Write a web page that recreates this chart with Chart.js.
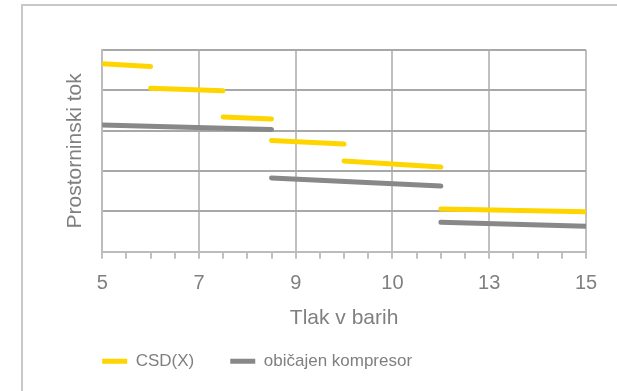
<!DOCTYPE html>
<html>
<head>
<meta charset="utf-8">
<script src="https://cdn.jsdelivr.net/npm/chart.js@4/dist/chart.umd.min.js"></script>
<style>
  html, body { margin: 0; padding: 0; background: #fff; }
  #frame {
    position: absolute; left: 21px; top: 4px; width: 700px; height: 500px;
    border-left: 2px solid #c8c8c8; border-top: 2px solid #c8c8c8;
  }
  #wrap { position: absolute; left: 0; top: 0; width: 617px; height: 391px; }
</style>
</head>
<body>
<div id="frame"></div>
<div id="wrap"><canvas id="flowChart"></canvas></div>
<script>
// x positions are steps on the pressure axis (0..20), labels every 4 steps
const xTickLabels = ['5', '7', '9', '10', '13', '15'];

// CSD(X) segments
const csdFrom = [0, 2, 5, 7, 10, 14];
const csdTo = [2, 5, 7, 10, 14, 20];
const csdStartFlow = [4.66, 4.05, 3.34, 2.76, 2.25, 1.06];
const csdEndFlow = [4.59, 3.99, 3.29, 2.67, 2.10, 0.99];

// običajen kompresor segments
const stdFrom = [0, 7, 14];
const stdTo = [7, 14, 20];
const stdStartFlow = [3.14, 1.83, 0.73];
const stdEndFlow = [3.03, 1.63, 0.63];

function segments(from, to, startFlow, endFlow) {
  const pts = [];
  for (let i = 0; i < from.length; i++) {
    if (i > 0) pts.push({ x: from[i], y: null });
    pts.push({ x: from[i], y: startFlow[i] });
    pts.push({ x: to[i], y: endFlow[i] });
  }
  return pts;
}

const textColor = '#808080';

// move the legend so it starts under the plot, like the original
const legendShift = {
  id: 'legendShift',
  afterLayout(chart) {
    const legend = chart.legend;
    legend.left = chart.chartArea.left - 36;
    legend.top = chart.chartArea.bottom + 65;
    legend.bottom = legend.top + 62;
  }
};

const ctx = document.getElementById('flowChart').getContext('2d');
const flowChart = new Chart(ctx, {
  type: 'line',
  data: {
    datasets: [{
      label: 'CSD(X)',
      data: segments(csdFrom, csdTo, csdStartFlow, csdEndFlow),
      borderColor: '#FFD500',
      backgroundColor: '#FFD500',
      borderWidth: 5,
      borderCapStyle: 'round',
      pointRadius: 0,
      spanGaps: false,
      fill: false
    }, {
      label: 'običajen kompresor',
      data: segments(stdFrom, stdTo, stdStartFlow, stdEndFlow),
      borderColor: '#888888',
      backgroundColor: '#888888',
      borderWidth: 5,
      borderCapStyle: 'round',
      pointRadius: 0,
      spanGaps: false,
      fill: false
    }]
  },
  options: {
    responsive: true,
    maintainAspectRatio: false,
    animation: false,
    layout: {
      padding: { left: 59, right: 31, top: 50, bottom: 17 }
    },
    scales: {
      x: {
        type: 'linear',
        min: 0,
        max: 20,
        ticks: {
          stepSize: 1,
          autoSkip: false,
          maxRotation: 0,
          padding: 13,
          color: textColor,
          font: { family: 'Liberation Sans', size: 20 },
          callback: function(v) {
            return v % 4 === 0 ? xTickLabels[v / 4] : '';
          }
        },
        grid: {
          color: function(c) {
            return c.tick && c.tick.value % 4 === 0 ? '#c0c0c0' : 'rgba(0,0,0,0)';
          },
          tickColor: '#c0c0c0',
          tickLength: 7,
          lineWidth: 2
        },
        border: { color: '#bcbcbc', width: 2 },
        title: {
          display: true,
          text: 'Tlak v barih',
          color: textColor,
          font: { family: 'Liberation Sans', size: 21 },
          padding: { top: -3, bottom: 0 }
        }
      },
      y: {
        min: 0,
        max: 5,
        ticks: { stepSize: 1, display: false },
        grid: { color: '#a8a8a8', lineWidth: 2, drawTicks: false },
        border: { color: '#bcbcbc', width: 2 },
        title: {
          display: true,
          text: 'Prostorninski tok',
          color: textColor,
          font: { family: 'Liberation Sans', size: 21 },
          padding: { top: 4, bottom: 14 }
        }
      }
    },
    plugins: {
      legend: {
        position: 'bottom',
        align: 'start',
        maxHeight: 43,
        labels: {
          usePointStyle: true,
          pointStyle: 'line',
          pointStyleWidth: 25,
          padding: 36,
          color: textColor,
          font: { family: 'Liberation Sans', size: 17 }
        }
      },
      tooltip: { enabled: false }
    }
  },
  plugins: [legendShift]
});
</script>
</body>
</html>
